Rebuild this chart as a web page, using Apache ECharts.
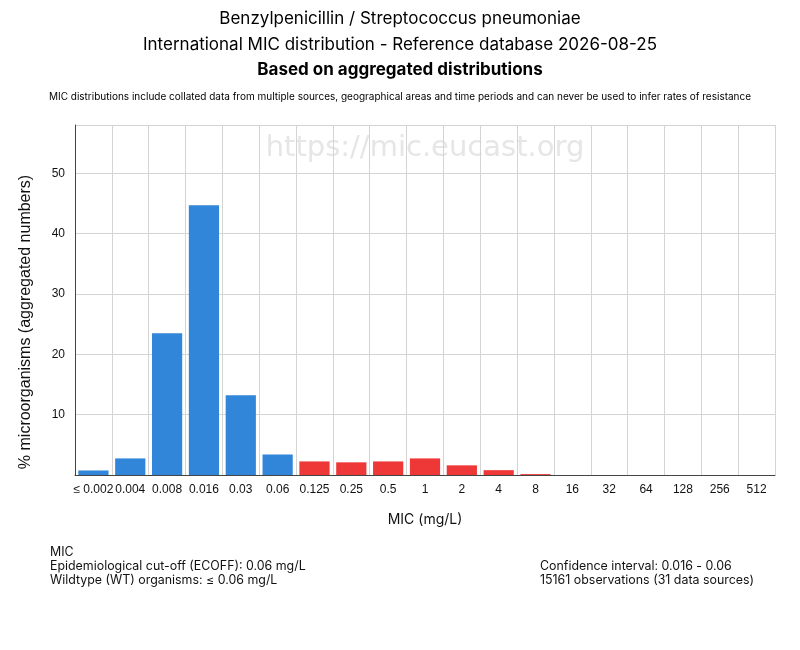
<!DOCTYPE html>
<html>
<head>
<meta charset="utf-8">
<script src="https://cdn.jsdelivr.net/npm/echarts@6/dist/echarts.min.js"></script>
<style>
  html, body { margin: 0; padding: 0; background: #fff; }
  #chart { width: 800px; height: 650px; }
</style>
</head>
<body>
<div id="chart"></div>
<script>
// MIC classes (mg/L) and % of organisms per class
var micLabels = ['≤ 0.002', '0.004', '0.008', '0.016', '0.03', '0.06', '0.125', '0.25', '0.5', '1', '2', '4', '8', '16', '32', '64', '128', '256', '512'];
var pctValues = [0.75, 2.75, 23.5, 44.7, 13.2, 3.4, 2.25, 2.1, 2.25, 2.75, 1.6, 0.8, 0.15, 0, 0, 0, 0, 0, 0];
var ecoffLabel = '0.06';
var yTicks = [10, 20, 30, 40, 50];

var wtColor = '#3186da';
var nonWtColor = '#ee3737';
var font = 'Liberation Sans';
var titleFont = 'Inter';

var ecoffIndex = micLabels.indexOf(ecoffLabel);

var chart = echarts.init(document.getElementById('chart'));

function titleLine(text, top, size, weight) {
  return {
    text: text, left: 'center', top: top, padding: 0,
    textStyle: { fontFamily: titleFont, fontSize: size, fontWeight: weight, color: '#000' }
  };
}

var option = {
  animation: false,
  title: [
    titleLine('Benzylpenicillin / Streptococcus pneumoniae', 10, 17, 'normal'),
    titleLine('International MIC distribution - Reference database 2026-08-25', 36, 17, 'normal'),
    titleLine('Based on aggregated distributions', 61, 17, 'bold'),
    titleLine('MIC distributions include collated data from multiple sources, geographical areas and time periods and can never be used to infer rates of resistance', 92, 10, 'normal')
  ],
  grid: { left: 75, right: 25, top: 125, bottom: 175, containLabel: false, show: false },
  graphic: [
    {
      type: 'text', x: 425, y: 134, z: 0, silent: true,
      style: { text: 'https://mic.eucast.org', font: '29px "DejaVu Sans"', fill: '#e6e6e6', align: 'center', verticalAlign: 'top' }
    },
    {
      type: 'text', x: 18, y: 322, rotation: Math.PI / 2, silent: true,
      style: { text: '% microorganisms (aggregated numbers)', font: '16px "Liberation Sans"', fill: '#111', align: 'center', verticalAlign: 'top' }
    },
    {
      type: 'text', left: 50, top: 545, silent: true,
      style: { text: 'MIC\nEpidemiological cut-off (ECOFF): 0.06 mg/L\nWildtype (WT) organisms: ≤ 0.06 mg/L', font: '12.4px Inter', fill: '#111', lineHeight: 14 }
    },
    {
      type: 'text', left: 540, top: 559, silent: true,
      style: { text: 'Confidence interval: 0.016 - 0.06\n15161 observations (31 data sources)', font: '12.4px Inter', fill: '#111', lineHeight: 14 }
    }
  ],
  xAxis: {
    type: 'category',
    data: micLabels,
    name: 'MIC (mg/L)',
    nameLocation: 'middle',
    nameGap: 38,
    nameTextStyle: { fontFamily: titleFont, fontSize: 14, color: '#111' },
    axisLine: { lineStyle: { color: '#444' } },
    axisTick: { show: false },
    axisLabel: { fontFamily: font, fontSize: 12, color: '#111', margin: 9, interval: 0 },
    splitLine: { show: true, interval: 0, lineStyle: { color: '#d4d4d4' } }
  },
  yAxis: {
    type: 'value',
    min: 0, max: 58, interval: 10,
    axisLine: { show: true, lineStyle: { color: '#444' } },
    axisTick: { show: false },
    axisLabel: {
      fontFamily: font, fontSize: 12, color: '#111', margin: 10, showMaxLabel: false,
      formatter: function (v) { return yTicks.indexOf(v) >= 0 ? String(v) : ''; }
    },
    splitLine: { show: true, lineStyle: { color: '#d4d4d4' } }
  },
  series: [{
    type: 'bar',
    data: pctValues,
    barCategoryGap: '18%',
    z: 3,
    itemStyle: {
      color: function (p) { return p.dataIndex <= ecoffIndex ? wtColor : nonWtColor; }
    }
  }]
};

chart.setOption(option);
</script>
</body>
</html>
